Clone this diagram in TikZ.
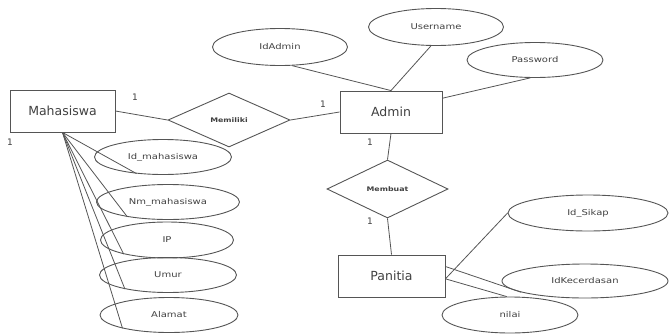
\documentclass[tikz,border=0pt]{standalone}
\usepackage{fontspec}
\setmainfont{DejaVu Sans}
\newfontfamily\attrfont[FakeStretch=1.25]{DejaVu Sans}
\usetikzlibrary{shapes.geometric}
\definecolor{ln}{HTML}{555555}
\definecolor{tx}{HTML}{404040}
\begin{document}
\begin{tikzpicture}[x=1pt,y=-1pt,
  entity/.style={draw=ln,line width=0.9pt,rectangle,inner sep=0pt,text=tx,font=\fontsize{12.5}{14}\selectfont},
  attr/.style={draw=ln,line width=0.9pt,ellipse,inner sep=0pt,text=tx,font=\attrfont\fontsize{8}{9}\selectfont},
  rel/.style={draw=ln,line width=0.9pt,diamond,aspect=2.2,inner sep=0pt,text=tx,font=\attrfont\bfseries\fontsize{6.3}{7}\selectfont},
  card/.style={text=tx,inner sep=0pt,font=\fontsize{9}{10}\selectfont},
  link/.style={draw=ln,line width=0.8pt}]
\useasboundingbox (0,0) rectangle (669,335);
% entities
\node[entity,minimum width=105pt,minimum height=42pt] (mhs) at (62.5,111) {Mahasiswa};
\node[entity,minimum width=102pt,minimum height=42pt] (admin) at (391,112) {Admin};
\node[entity,minimum width=107pt,minimum height=42pt] (pan) at (391.5,276) {Panitia};
% relationships
\node[rel,minimum width=122pt,minimum height=54pt] (r1) at (229,120) {Memiliki};
\node[rel,minimum width=121pt,minimum height=58pt] (r2) at (387.5,189) {Membuat};
% attributes
\node[attr,minimum width=135pt,minimum height=37pt] (idadmin) at (280,47) {IdAdmin};
\node[attr,minimum width=135pt,minimum height=37pt] (user) at (436,27) {Username};
\node[attr,minimum width=136pt,minimum height=35pt] (pass) at (535,60) {Password};
\node[attr,minimum width=137pt,minimum height=35pt] (idm) at (163,157) {Id\_mahasiswa};
\node[attr,minimum width=143pt,minimum height=35pt] (nm) at (168,202) {Nm\_mahasiswa};
\node[attr,minimum width=133pt,minimum height=36pt] (ip) at (167,240) {IP};
\node[attr,minimum width=137pt,minimum height=35pt] (umur) at (168,275) {Umur};
\node[attr,minimum width=138pt,minimum height=35pt] (alamat) at (169,315) {Alamat};
\node[attr,minimum width=160pt,minimum height=36pt] (sikap) at (588,213) {Id\_Sikap};
\node[attr,minimum width=166pt,minimum height=34pt] (kec) at (585,281) {IdKecerdasan};
\node[attr,minimum width=136pt,minimum height=36pt] (nilai) at (510,315) {nilai};
% cardinalities
\node[card] (c1) at (135,97) {1};
\node[card] (c2) at (10,142) {1};
\node[card] (c3) at (323,104) {1};
\node[card] (c4) at (370,142) {1};
\node[card] (c5) at (370,221) {1};
% connectors
\draw[link] (mhs.east) -- (r1.west);
\draw[link] (r1.east) -- (admin.west);
\draw[link] (admin.south) -- (r2.north);
\draw[link] (r2.south) -- (pan.north);
\draw[link] (idadmin.-57) -- (admin.north);
\draw[link] (user.255) -- (admin.north);
\draw[link] (pass.255) -- (admin.15);
\draw[link] (mhs.south) -- (idm.212);
\draw[link] (mhs.south) -- (nm.200);
\draw[link] (mhs.south) -- (ip.198);
\draw[link] (mhs.south) -- (umur.198);
\draw[link] (mhs.south) -- (alamat.196);
\draw[link] (pan.-3) -- (sikap.west);
\draw[link] (pan.10) -- (kec.190);
\draw[link] (pan.-3) -- (nilai.100);
\end{tikzpicture}
\end{document}
